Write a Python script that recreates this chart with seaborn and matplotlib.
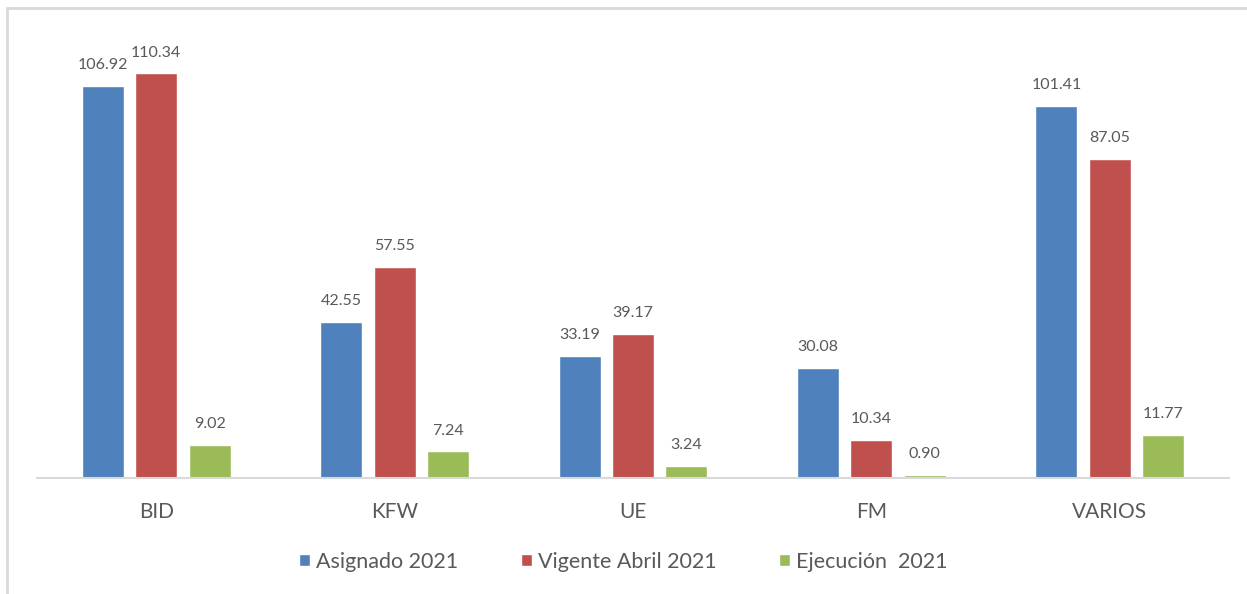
import pandas as pd
import matplotlib
matplotlib.use('Agg')
import matplotlib.pyplot as plt
from matplotlib.patches import Rectangle
import seaborn as sns

# values
categories = ["BID", "KFW", "UE", "FM", "VARIOS"]
series = ["Asignado 2021", "Vigente Abril 2021", "Ejecución  2021"]
asignado = [106.92, 42.55, 33.19, 30.08, 101.41]
vigente = [110.34, 57.55, 39.17, 10.34, 87.05]
ejecucion = [9.02, 7.24, 3.24, 0.90, 11.77]
colors = ["#4F81BD", "#C0504D", "#9BBB59"]

df = pd.DataFrame({
    "fuente": categories * 3,
    "serie": [series[0]] * 5 + [series[1]] * 5 + [series[2]] * 5,
    "valor": asignado + vigente + ejecucion,
})

sns.set_style("white")
plt.rcParams['font.family'] = ['Lato', 'DejaVu Sans']
text_gray = "#595959"

fig = plt.figure(figsize=(12.47, 5.94), dpi=100)
ax = fig.add_axes([37 / 1247, 116 / 594, 1192 / 1247, 440 / 594])

sns.barplot(data=df, x="fuente", y="valor", hue="serie", order=categories,
            hue_order=series, palette=colors, width=0.672, gap=0.21,
            saturation=1, errorbar=None, ax=ax)

for cont in ax.containers:
    ax.bar_label(cont, fmt="%.2f", padding=10, fontsize=11.5, color=text_gray)

ax.set_ylim(0, 120)
ax.set_xlim(-0.5, 4.5)
ax.set_xlabel("")
ax.set_ylabel("")
ax.set_yticks([])
ax.tick_params(axis="x", length=0, pad=17, labelsize=15, labelcolor=text_gray)
for side in ["top", "right", "left"]:
    ax.spines[side].set_visible(False)
ax.spines["bottom"].set_color("#D9D9D9")
ax.spines["bottom"].set_linewidth(1.5)

handles, labels = ax.get_legend_handles_labels()
ax.legend(handles, labels, loc="center", bbox_to_anchor=(0.492, -0.19), ncol=3,
          frameon=False, fontsize=15.5, labelcolor=text_gray, handlelength=0.5,
          handleheight=0.5, handletextpad=0.3, columnspacing=2.9)

# outer chart border (only top and left are visible in the crop)
fig.patches.append(Rectangle((7 / 1247, -0.1), 1.2, 1.1 - 8 / 594,
                             transform=fig.transFigure, fill=False,
                             edgecolor="#D9D9D9", linewidth=2))

fig.savefig("out.png", dpi=100)
